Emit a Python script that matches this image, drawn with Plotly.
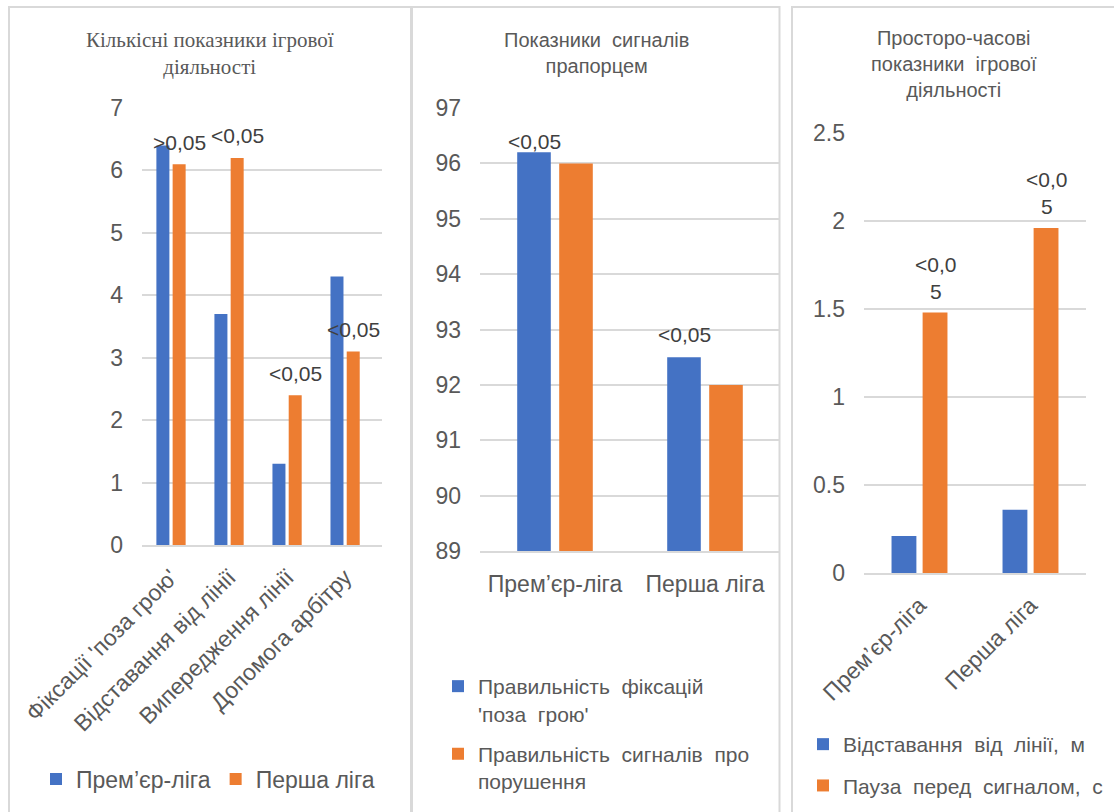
import plotly.graph_objects as go

W, H = 1114, 812
BLUE = "#4472C4"
ORANGE = "#ED7D31"
GRID = "#D9D9D9"
TXT = "#595959"
SP = "\u00a0 "  # wide (justified-looking) space

# ---- Data ----
p1_categories = ["Фіксації 'поза грою'", "Відставання від лінії", "Випередження лінії", "Допомога арбітру"]
p1_premier = [6.4, 3.7, 1.3, 4.3]
p1_first = [6.1, 6.2, 2.4, 3.1]
p1_labels = [">0,05", "<0,05", "<0,05", "<0,05"]
p1_series = ["Прем’єр-ліга", "Перша ліга"]

p2_categories = ["Прем’єр-ліга", "Перша ліга"]
p2_offside = [96.2, 92.5]
p2_fouls = [96.0, 92.0]
p2_labels = ["<0,05", "<0,05"]
p2_series = ["Правильність" + SP + "фіксацій<br>'поза" + SP + "грою'",
             "Правильність" + SP + "сигналів" + SP + "про<br>порушення"]

p3_categories = ["Прем’єр-ліга", "Перша ліга"]
p3_lag = [0.21, 0.36]
p3_pause = [1.48, 1.96]
p3_labels = ["<0,0<br>5", "<0,0<br>5"]
p3_series = ["Відставання" + SP + "від" + SP + "лінії," + SP + "м",
             "Пауза" + SP + "перед" + SP + "сигналом," + SP + "с"]

titles = ["Кількісні показники ігрової<br>діяльності",
          "Показники" + SP + "сигналів<br>прапорцем",
          "Просторо-часові<br>показники" + SP + "ігрової<br>діяльності"]

# ---- Layout helpers (pixel geometry) ----
def xd(a, b):
    return [a / W, b / W]

def yd(bottom, top):
    return [(H - bottom) / H, (H - top) / H]

BARGAP = 0.44
BARGROUPGAP = 0.2

fig = go.Figure()

# Panel 1
fig.add_trace(go.Bar(x=p1_categories, y=p1_premier, name=p1_series[0], marker_color=BLUE,
                     xaxis="x", yaxis="y", legend="legend", legendgroup="a"))
fig.add_trace(go.Bar(x=p1_categories, y=p1_first, name=p1_series[1], marker_color=ORANGE,
                     xaxis="x", yaxis="y", legend="legend", legendgroup="b"))
# Panel 2
fig.add_trace(go.Bar(x=p2_categories, y=p2_offside, name=p2_series[0], marker_color=BLUE,
                     xaxis="x2", yaxis="y2", legend="legend2", legendgroup="c"))
fig.add_trace(go.Bar(x=p2_categories, y=p2_fouls, name=p2_series[1], marker_color=ORANGE,
                     xaxis="x2", yaxis="y2", legend="legend2", legendgroup="d"))
# Panel 3
fig.add_trace(go.Bar(x=p3_categories, y=p3_lag, name=p3_series[0], marker_color=BLUE,
                     xaxis="x3", yaxis="y3", legend="legend3", legendgroup="e"))
fig.add_trace(go.Bar(x=p3_categories, y=p3_pause, name=p3_series[1], marker_color=ORANGE,
                     xaxis="x3", yaxis="y3", legend="legend3", legendgroup="f"))

tickfont = dict(family="Liberation Sans, Arial", size=23, color=TXT)

panels = [
    dict(x=(142, 382), y=(545, 108), rng=[0, 7], dtick=1, angle=-45),
    dict(x=(480, 780), y=(551, 108), rng=[89, 97], dtick=1, angle=0),
    dict(x=(864, 1086), y=(573, 133), rng=[0, 2.5], dtick=0.5, angle=-45),
]

for i, p in enumerate(panels):
    sfx = "" if i == 0 else str(i + 1)
    fig.layout["xaxis" + sfx] = dict(
        domain=xd(*p["x"]), anchor="y" + sfx, showgrid=False, showline=True,
        linecolor=GRID, linewidth=1.5, ticks="", tickfont=tickfont, automargin=False,
        tickangle=p["angle"], fixedrange=True, ticklabelstandoff=8 if p["angle"] else 12,
    )
    fig.layout["yaxis" + sfx] = dict(
        domain=yd(*p["y"]), anchor="x" + sfx, range=p["rng"], dtick=p["dtick"],
        showgrid=True, gridcolor=GRID, gridwidth=1.5, zeroline=False, showline=False,
        ticks="", tickfont=tickfont, ticklabelstandoff=18, fixedrange=True, automargin=False,
    )

# ---- Data label annotations ----
annots = []
lblfont = dict(family="Liberation Sans, Arial", size=21, color="#404040")

def slot_px(px_range, ncat):
    cat = (px_range[1] - px_range[0]) / ncat
    return cat * (1 - BARGAP) / 2

s1 = slot_px(panels[0]["x"], len(p1_categories))
for c, v, t in zip(p1_categories, p1_first, p1_labels):
    annots.append(dict(x=c, y=v, xref="x", yref="y", text=t, showarrow=False,
                       xshift=s1 / 2, yshift=22, yanchor="middle", font=lblfont))

s2 = slot_px(panels[1]["x"], len(p2_categories))
p2_shift = [11, 23]
for c, v, t, sh in zip(p2_categories, p2_offside, p2_labels, p2_shift):
    annots.append(dict(x=c, y=v, xref="x2", yref="y2", text=t, showarrow=False,
                       xshift=-s2 / 2, yshift=sh, yanchor="middle", font=lblfont))

s3 = slot_px(panels[2]["x"], len(p3_categories))
for c, v, t in zip(p3_categories, p3_pause, p3_labels):
    annots.append(dict(x=c, y=v, xref="x3", yref="y3", text=t, showarrow=False,
                       xshift=s3 / 2, yshift=35, yanchor="middle", font=lblfont))

# ---- Titles ----
title_pos = [(210, 54), (596, 53), (954, 64)]
title_fonts = [dict(family="Liberation Serif, Times New Roman", size=21, color=TXT),
               dict(family="Liberation Sans, Arial", size=20, color=TXT),
               dict(family="Liberation Sans, Arial", size=20, color=TXT)]
for t, (px, py), f in zip(titles, title_pos, title_fonts):
    annots.append(dict(x=px / W, y=(H - py) / H, xref="paper", yref="paper", text=t,
                       showarrow=False, xanchor="center", yanchor="middle", font=f))

# ---- Panel borders ----
shapes = []
for (a, b) in [(9, 411), (412, 779.5), (792, 1130)]:
    shapes.append(dict(type="rect", xref="paper", yref="paper",
                       x0=a / W, x1=b / W, y0=-0.05, y1=(H - 7) / H,
                       line=dict(color=GRID, width=2), fillcolor="rgba(0,0,0,0)", layer="below"))

legfont = dict(family="Liberation Sans, Arial", size=23, color=TXT)
legfont2 = dict(family="Liberation Sans, Arial", size=21, color=TXT)

fig.update_layout(
    template="none",
    width=W, height=H, margin=dict(l=0, r=0, t=0, b=0, autoexpand=False),
    paper_bgcolor="white", plot_bgcolor="white",
    barmode="group", bargap=BARGAP, bargroupgap=BARGROUPGAP,
    annotations=annots, shapes=shapes,
    legend=dict(orientation="h", x=36 / W, y=(H - 779) / H, xanchor="left", yanchor="middle",
                font=legfont, bgcolor="rgba(0,0,0,0)", tracegroupgap=0),
    legend2=dict(orientation="v", x=438 / W, y=(H - 666) / H, xanchor="left", yanchor="top",
                 font=legfont2, valign="top", bgcolor="rgba(0,0,0,0)", tracegroupgap=10),
    legend3=dict(orientation="v", x=803 / W, y=(H - 724) / H, xanchor="left", yanchor="top",
                 font=legfont2, bgcolor="rgba(0,0,0,0)", tracegroupgap=11),
    showlegend=True,
)

fig.write_html("out.html")
